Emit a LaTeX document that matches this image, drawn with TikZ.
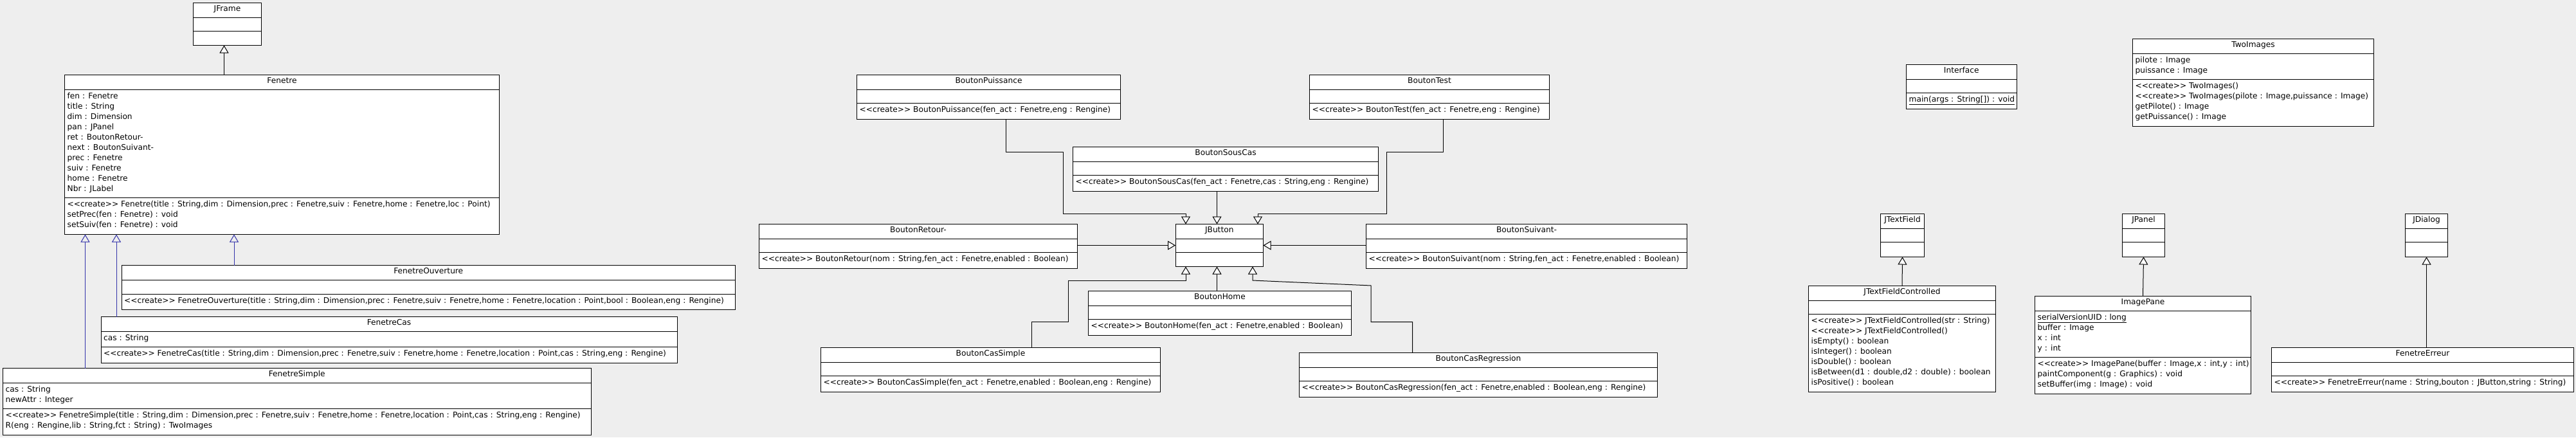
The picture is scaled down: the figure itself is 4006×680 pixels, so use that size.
\documentclass[tikz,border=0pt]{standalone}
\usepackage{fontspec}
\usepackage{tikz}
\usetikzlibrary{arrows.meta}
\newfontfamily\umlfont{DejaVu Sans}
\definecolor{bg}{HTML}{EEEEEE}
\definecolor{inhblue}{HTML}{3333AA}
\newcommand{\cre}{<\kern0pt<create>\kern0pt> }
% class box: name, left, top, right, bottom, end of title, end of attributes, title
\newcommand{\umlclass}[8]{%
  \node[classbox, minimum width={#4-#2}, minimum height={#5-#3}]
    (#1) at ({(#2+#4)/2},{(#3+#5)/2}) {};
  \draw[sepline] (#2,#6) -- (#4,#6) (#2,#7) -- (#4,#7);
  \node[classname] (#1-name) at ({(#2+#4)/2},{#3+13}) {#8};
  \coordinate (#1-attr) at ({#2+4},{#6+14});
  \coordinate (#1-ops) at ({#2+4},{#7+14});
}
% one line per member, 16px apart
\newcommand{\members}[2]{%
  \foreach \txt [count=\i] in {#2} {
    \node[member] (#1-\i) at ([yshift={-16*(\i-1)}]#1) {\txt};
  }
}

\begin{document}
\begin{tikzpicture}[x=1pt,y=-1pt]
\tikzset{classbox/.style = {draw, fill=white, line width=1pt, inner sep=0pt, outer sep=0pt},
  sepline/.style = {line width=1pt},
  classname/.style = {anchor=base, inner sep=0pt, font=\umlfont\fontsize{12.2}{16}\selectfont},
  member/.style = {anchor=base west, inner sep=0pt, font=\umlfont\fontsize{12.2}{16}\selectfont},
  inh/.style = {line width=1pt, -{Triangle[fill=white, length=12pt, width=14pt]}},
  inhb/.style = {line width=1pt, draw=inhblue, -{Triangle[open, length=12pt, width=14pt]}}}
\useasboundingbox (0,0) rectangle (4006,680);
\fill[bg] (0,0) rectangle (4006,680);
% classes
\umlclass{jframe}{300.5}{4.5}{406.5}{70.5}{27.5}{48.5}{JFrame}
\umlclass{fenetre}{100.5}{116.5}{776.5}{364.5}{139.5}{307.5}{Fenetre}
\members{fenetre-attr}{{fen : Fenetre},{title : String},{dim : Dimension},{pan : JPanel},{ret : BoutonRetour-},{next : BoutonSuivant-},{prec : Fenetre},{suiv : Fenetre},{home : Fenetre},{Nbr : JLabel}}
\members{fenetre-ops}{{\cre Fenetre(title : String,dim : Dimension,prec : Fenetre,suiv : Fenetre,home : Fenetre,loc : Point)},{setPrec(fen : Fenetre) : void},{setSuiv(fen : Fenetre) : void}}
\umlclass{fenOuv}{189}{412.5}{1143.5}{481.5}{435.5}{457.5}{FenetreOuverture}
\members{fenOuv-ops}{{\cre FenetreOuverture(title : String,dim : Dimension,prec : Fenetre,suiv : Fenetre,home : Fenetre,location : Point,bool : Boolean,eng : Rengine)}}
\umlclass{fenCas}{157}{492.5}{1053}{564.5}{515.5}{539.5}{FenetreCas}
\members{fenCas-attr}{{cas : String}}
\members{fenCas-ops}{{\cre FenetreCas(title : String,dim : Dimension,prec : Fenetre,suiv : Fenetre,home : Fenetre,location : Point,cas : String,eng : Rengine)}}
\umlclass{fenSimple}{4.5}{572.5}{919}{676.5}{595.5}{635.5}{FenetreSimple}
\members{fenSimple-attr}{{cas : String},{newAttr : Integer}}
\members{fenSimple-ops}{{\cre FenetreSimple(title : String,dim : Dimension,prec : Fenetre,suiv : Fenetre,home : Fenetre,location : Point,cas : String,eng : Rengine)},{R(eng : Rengine,lib : String,fct : String) : TwoImages}}
\umlclass{btnPuissance}{1332.5}{116.5}{1742.5}{185.5}{139.5}{160.5}{BoutonPuissance}
\members{btnPuissance-ops}{{\cre BoutonPuissance(fen\_act : Fenetre,eng : Rengine)}}
\umlclass{btnTest}{2036.5}{116.5}{2409.5}{185.5}{139.5}{160.5}{BoutonTest}
\members{btnTest-ops}{{\cre BoutonTest(fen\_act : Fenetre,eng : Rengine)}}
\umlclass{btnSousCas}{1668.5}{228.5}{2143.5}{297.5}{251.5}{272.5}{BoutonSousCas}
\members{btnSousCas-ops}{{\cre BoutonSousCas(fen\_act : Fenetre,cas : String,eng : Rengine)}}
\umlclass{jbutton}{1828}{348.5}{1964.5}{414.5}{371.5}{392.5}{JButton}
\umlclass{btnRetour}{1180.5}{348.5}{1675.5}{417.5}{371.5}{392.5}{BoutonRetour-}
\members{btnRetour-ops}{{\cre BoutonRetour(nom : String,fen\_act : Fenetre,enabled : Boolean)}}
\umlclass{btnSuivant}{2124.5}{348.5}{2623.5}{417.5}{371.5}{392.5}{BoutonSuivant-}
\members{btnSuivant-ops}{{\cre BoutonSuivant(nom : String,fen\_act : Fenetre,enabled : Boolean)}}
\umlclass{btnHome}{1692.5}{452.5}{2101.5}{521.5}{475.5}{496.5}{BoutonHome}
\members{btnHome-ops}{{\cre BoutonHome(fen\_act : Fenetre,enabled : Boolean)}}
\umlclass{btnCasSimple}{1276.5}{540.5}{1804.5}{609.5}{563.5}{584.5}{BoutonCasSimple}
\members{btnCasSimple-ops}{{\cre BoutonCasSimple(fen\_act : Fenetre,enabled : Boolean,eng : Rengine)}}
\umlclass{btnCasReg}{2020.5}{548.5}{2577.5}{617.5}{571.5}{592.5}{BoutonCasRegression}
\members{btnCasReg-ops}{{\cre BoutonCasRegression(fen\_act : Fenetre,enabled : Boolean,eng : Rengine)}}
\umlclass{interface}{2964.5}{100.5}{3136}{169.5}{123.5}{144.5}{Interface}
\members{interface-ops}{{\underline{main(args : String[]) : void}}}
\umlclass{twoImages}{3316.5}{60.5}{3691.5}{196}{83.5}{123.5}{TwoImages}
\members{twoImages-attr}{{pilote : Image},{puissance : Image}}
\members{twoImages-ops}{{\cre TwoImages()},{\cre TwoImages(pilote : Image,puissance : Image)},{getPilote() : Image},{getPuissance() : Image}}
\umlclass{jtextfield}{2924.5}{332.5}{2992.5}{399.5}{355.5}{376.5}{JTextField}
\umlclass{jtfc}{2812.5}{444.5}{3103.5}{609.5}{467.5}{488.5}{JTextFieldControlled}
\members{jtfc-ops}{{\cre JTextFieldControlled(str : String)},{\cre JTextFieldControlled()},{isEmpty() : boolean},{isInteger() : boolean},{isDouble() : boolean},{isBetween(d1 : double,d2 : double) : boolean},{isPositive() : boolean}}
\umlclass{jpanel}{3300.5}{332.5}{3366.5}{399.5}{355.5}{376.5}{JPanel}
\umlclass{imagePane}{3164.5}{460.5}{3500.5}{612.5}{483.5}{555.5}{ImagePane}
\members{imagePane-attr}{{\underline{serialVersionUID : long}},{buffer : Image},{x : int},{y : int}}
\members{imagePane-ops}{{\cre ImagePane(buffer : Image,x : int,y : int)},{paintComponent(g : Graphics) : void},{setBuffer(img : Image) : void}}
\umlclass{jdialog}{3740.5}{332.5}{3806.5}{399.5}{355.5}{376.5}{JDialog}
\umlclass{fenErreur}{3532.5}{540.5}{4002.5}{609.5}{563.5}{584.5}{FenetreErreur}
\members{fenErreur-ops}{{\cre FenetreErreur(name : String,bouton : JButton,string : String)}}
% edges
\coordinate (p-fenetre) at ([xshift=248pt]fenetre.north west);
\draw[inh] (p-fenetre) -- (p-fenetre |- jframe.south);
\foreach \cls/\dx in {fenSimple/128,fenCas/24,fenOuv/175} {
    \coordinate (p-\cls) at ([xshift=\dx pt]\cls.north west);
    \draw[inhb] (p-\cls) -- (p-\cls |- fenetre.south);
}
\draw[inh] ([xshift=232pt]btnPuissance.south west) -- ++(0,51) -| (1653,332) -| ([xshift=16pt]jbutton.north west);
\coordinate (p-btnSousCas) at ([xshift=224pt]btnSousCas.south west);
\draw[inh] (p-btnSousCas) -- (p-btnSousCas |- jbutton.north);
\draw[inh] ([xshift=208pt]btnTest.south west) -- ++(0,51) -| (2156,332) -| ([xshift=128pt]jbutton.north west);
\draw[inh] (btnRetour.east |- jbutton.west) -- (jbutton.west);
\draw[inh] (btnSuivant.west |- jbutton.east) -- (jbutton.east);
\draw[inh] ([xshift=328pt]btnCasSimple.north west) -- ++(0,-40) -| (1661,436) -| ([xshift=16pt]jbutton.south west);
\coordinate (p-btnHome) at ([xshift=200pt]btnHome.north west);
\draw[inh] (p-btnHome) -- (p-btnHome |- jbutton.south);
\draw[inh] ([xshift=176pt]btnCasReg.north west) -- ++(0,-48) -| (2132,444) -- (1948,436) -- ([xshift=120pt]jbutton.south west);
\draw[inh] (jtfc.north) -- (jtextfield.south);
\draw[inh] (imagePane.north) -- (jpanel.south);
\draw[inh] (jdialog.south |- fenErreur.north) -- (jdialog.south);
\end{tikzpicture}
\end{document}
